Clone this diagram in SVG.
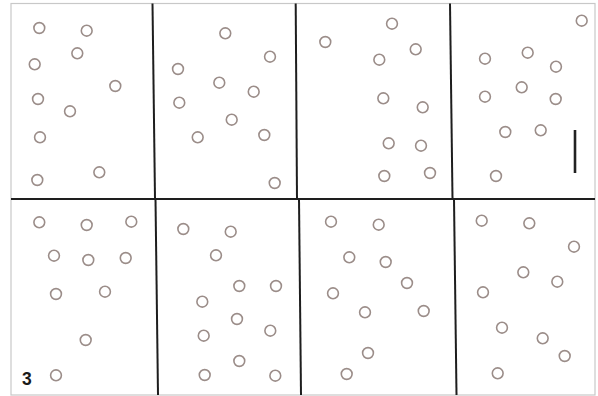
<svg xmlns="http://www.w3.org/2000/svg" width="598" height="396" viewBox="0 0 598 396">
<style>
.c{fill:none;stroke:#9b8d89;stroke-width:1.6}
.d{stroke:#1e1e1e;stroke-width:2;fill:none}
.b{fill:#fff;stroke:#c8c8c8;stroke-width:1.2}
.t{font-family:"Liberation Sans",Arial,sans-serif;font-weight:bold;font-size:17.5px;fill:#1a1a1a}
</style>
<defs><circle id="o" r="5.4" class="c"/></defs>
<rect width="598" height="396" fill="#fff"/>
<rect class="b" x="11" y="3.5" width="584" height="391.5"/>
<g id="dividers">
<line class="d" x1="11" y1="199" x2="595" y2="199"/>
<line class="d" x1="152.5" y1="3.5" x2="155" y2="199"/>
<line class="d" x1="295.7" y1="3.5" x2="297" y2="199"/>
<line class="d" x1="450" y1="3.5" x2="452.5" y2="199"/>
<line class="d" x1="155.5" y1="199" x2="158" y2="395"/>
<line class="d" x1="299" y1="199" x2="301" y2="395"/>
<line class="d" x1="454" y1="199" x2="456.5" y2="395"/>
</g>
<g id="panel1">
<use href="#o" x="39.3" y="28"/><use href="#o" x="86.7" y="30.7"/><use href="#o" x="77.3" y="53.3"/><use href="#o" x="34.7" y="64.3"/><use href="#o" x="115.3" y="86"/><use href="#o" x="38" y="99"/><use href="#o" x="70" y="111.3"/><use href="#o" x="40" y="137.3"/><use href="#o" x="99.3" y="172.3"/><use href="#o" x="37.3" y="180"/>
</g>
<g id="panel2">
<use href="#o" x="225.3" y="33.3"/><use href="#o" x="270" y="56.7"/><use href="#o" x="178" y="69"/><use href="#o" x="219.3" y="82.7"/><use href="#o" x="253.7" y="91.7"/><use href="#o" x="179.3" y="102.7"/><use href="#o" x="231.7" y="119.7"/><use href="#o" x="197.7" y="137.3"/><use href="#o" x="264.3" y="135"/><use href="#o" x="274.7" y="183"/>
</g>
<g id="panel3">
<use href="#o" x="392" y="23.7"/><use href="#o" x="325.3" y="42"/><use href="#o" x="415.7" y="49.3"/><use href="#o" x="379.3" y="59.7"/><use href="#o" x="383.3" y="98.3"/><use href="#o" x="422.7" y="107.3"/><use href="#o" x="388.7" y="143.3"/><use href="#o" x="421" y="145.7"/><use href="#o" x="384.3" y="176"/><use href="#o" x="430" y="173"/>
</g>
<g id="panel4">
<use href="#o" x="581.7" y="20.7"/><use href="#o" x="485" y="58.7"/><use href="#o" x="527.7" y="52.7"/><use href="#o" x="556" y="66.7"/><use href="#o" x="521.7" y="87.3"/><use href="#o" x="485" y="96.7"/><use href="#o" x="555.7" y="99"/><use href="#o" x="505.3" y="132"/><use href="#o" x="540.7" y="130.3"/><use href="#o" x="496" y="176"/>
<line x1="575" y1="130" x2="575" y2="173" stroke="#222" stroke-width="2.6"/>
</g>
<g id="panel5">
<use href="#o" x="39.3" y="222.3"/><use href="#o" x="86.7" y="225"/><use href="#o" x="131.3" y="221.7"/><use href="#o" x="54" y="255.7"/><use href="#o" x="88.3" y="260"/><use href="#o" x="125.7" y="258"/><use href="#o" x="56" y="294"/><use href="#o" x="105" y="291.7"/><use href="#o" x="85.7" y="340"/><use href="#o" x="56" y="375.3"/>
<text class="t" x="22" y="384.5">3</text>
</g>
<g id="panel6">
<use href="#o" x="183.3" y="229"/><use href="#o" x="230.7" y="231.7"/><use href="#o" x="216" y="255.3"/><use href="#o" x="239.3" y="286"/><use href="#o" x="276" y="286"/><use href="#o" x="202.3" y="301.7"/><use href="#o" x="237" y="319"/><use href="#o" x="270.3" y="330.7"/><use href="#o" x="203.7" y="335.7"/><use href="#o" x="239.3" y="361"/><use href="#o" x="204.7" y="375"/><use href="#o" x="275.3" y="375.7"/>
</g>
<g id="panel7">
<use href="#o" x="331" y="221.7"/><use href="#o" x="378.7" y="224.7"/><use href="#o" x="349.3" y="257.3"/><use href="#o" x="385.7" y="262"/><use href="#o" x="407" y="283"/><use href="#o" x="333" y="293.3"/><use href="#o" x="365" y="312.3"/><use href="#o" x="423.7" y="311"/><use href="#o" x="368" y="353"/><use href="#o" x="346.7" y="374"/>
</g>
<g id="panel8">
<use href="#o" x="481.7" y="220.7"/><use href="#o" x="529.3" y="223.3"/><use href="#o" x="574" y="246.7"/><use href="#o" x="523.3" y="272.3"/><use href="#o" x="557.3" y="281.7"/><use href="#o" x="483" y="292.3"/><use href="#o" x="502" y="327.7"/><use href="#o" x="542.7" y="338.3"/><use href="#o" x="564.7" y="356"/><use href="#o" x="497.7" y="373.3"/>
</g>
</svg>
